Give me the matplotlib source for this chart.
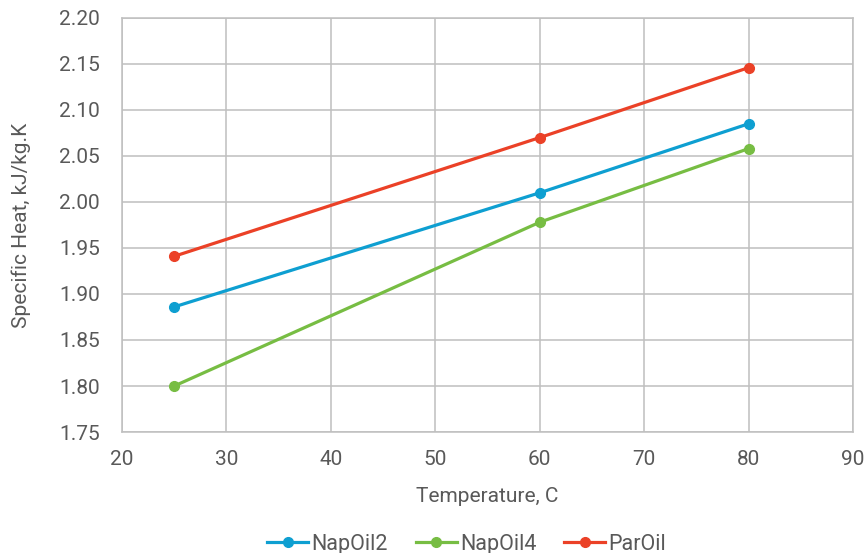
import matplotlib
matplotlib.use('Agg')
import matplotlib.pyplot as plt

# data
temps = [25, 60, 80]
napoil2 = [1.886, 2.010, 2.085]
napoil4 = [1.800, 1.978, 2.058]
paroil = [1.941, 2.070, 2.146]

series_names = ['NapOil2', 'NapOil4', 'ParOil']
colors = ['#0E9FD1', '#77BD43', '#EB4127']

plt.rcParams['font.family'] = ['Roboto', 'DejaVu Sans']
text_col = '#595959'
grid_col = '#BFBFBF'

fig = plt.figure(figsize=(8.66, 5.53), dpi=100)
ax = fig.add_axes([0.1409, 0.2188, 0.8441, 0.7487])

for name, vals, c in zip(series_names, [napoil2, napoil4, paroil], colors):
    ax.plot(temps, vals, color=c, lw=2.3, marker='o', ms=7, label=name)

ax.set_xlim(20, 90)
ax.set_ylim(1.75, 2.20)
ax.set_xticks(range(20, 91, 10))
ax.set_yticks([1.75 + 0.05 * i for i in range(10)])
ax.set_yticklabels(['%.2f' % (1.75 + 0.05 * i) for i in range(10)])

ax.grid(True, color=grid_col, lw=1.1)
ax.set_axisbelow(True)
for s in ax.spines.values():
    s.set_color(grid_col)
    s.set_linewidth(1.1)
ax.tick_params(length=0, labelsize=15, colors=text_col)
ax.tick_params(axis='y', pad=16)
ax.tick_params(axis='x', pad=13)

ax.set_xlabel('Temperature, C', fontsize=15, color=text_col, labelpad=13)
ax.set_ylabel('Specific Heat, kJ/kg.K', fontsize=15, color=text_col, labelpad=20)

leg = fig.legend(loc='center', bbox_to_anchor=(0.539, 0.016), ncol=3,
                 frameon=False, fontsize=15.5, handlelength=1.9,
                 handletextpad=0.15, columnspacing=1.3, borderpad=0)
for t in leg.get_texts():
    t.set_color(text_col)

fig.savefig('out.png', dpi=100)
